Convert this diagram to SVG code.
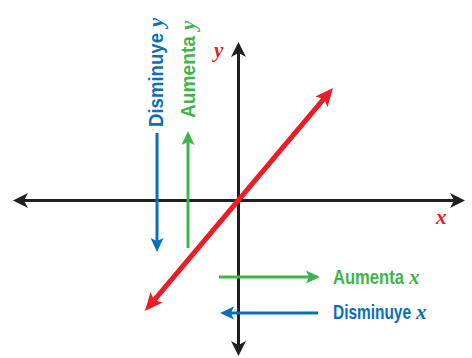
<svg xmlns="http://www.w3.org/2000/svg" width="472" height="358" viewBox="0 0 472 358">
<style>
.lbl{font-family:"Liberation Sans",Arial,sans-serif;font-weight:bold;font-size:21px}
.var{font-family:"Liberation Serif","Times New Roman",serif;font-style:italic;font-weight:bold;font-size:21px}
.blue{fill:#0b6fb8}.green{fill:#3db54a}.red{fill:#ed1c24}
</style>
<defs>
<marker id="hk" markerUnits="userSpaceOnUse" orient="auto-start-reverse" markerWidth="30" markerHeight="30" refX="0" refY="0" viewBox="-15 -15 30 30" overflow="visible"><path d="M11,0 L-4,-7.5 L0,0 L-4,7.5 Z" fill="#231f20"/></marker>
<marker id="hr" markerUnits="userSpaceOnUse" orient="auto-start-reverse" markerWidth="30" markerHeight="30" refX="0" refY="0" viewBox="-15 -15 30 30" overflow="visible"><path d="M14,0 L-4,-8 L0,0 L-4,8 Z" fill="#ed1c24"/></marker>
<marker id="hg" markerUnits="userSpaceOnUse" orient="auto" markerWidth="30" markerHeight="30" refX="0" refY="0" viewBox="-15 -15 30 30" overflow="visible"><path d="M11,0 L-3,-6.5 L0,0 L-3,6.5 Z" fill="#3db54a"/></marker>
<marker id="hb" markerUnits="userSpaceOnUse" orient="auto" markerWidth="30" markerHeight="30" refX="0" refY="0" viewBox="-15 -15 30 30" overflow="visible"><path d="M11,0 L-3,-6.5 L0,0 L-3,6.5 Z" fill="#0b6fb8"/></marker>
</defs>
<g id="connectors" fill="none">
<line x1="24" y1="200.5" x2="454" y2="200.5" stroke="#231f20" stroke-width="3" marker-start="url(#hk)" marker-end="url(#hk)"/>
<line x1="238.5" y1="345" x2="238.5" y2="53" stroke="#231f20" stroke-width="3" marker-start="url(#hk)" marker-end="url(#hk)"/>
<line x1="154" y1="300.3" x2="324" y2="98.7" stroke="#ed1c24" stroke-width="5" marker-start="url(#hr)" marker-end="url(#hr)"/>
<line x1="157" y1="133" x2="157" y2="241" stroke="#0b6fb8" stroke-width="3" marker-end="url(#hb)"/>
<line x1="188" y1="248" x2="188" y2="142" stroke="#3db54a" stroke-width="3" marker-end="url(#hg)"/>
<line x1="219" y1="277" x2="309" y2="277" stroke="#3db54a" stroke-width="3" marker-end="url(#hg)"/>
<line x1="318" y1="313" x2="231" y2="313" stroke="#0b6fb8" stroke-width="3" marker-end="url(#hb)"/>
</g>
<g id="label-y-axis"><text class="var red" x="214" y="57">y</text></g>
<g id="label-x-axis"><text class="var red" x="436" y="224">x</text></g>
<g id="disminuye-y" transform="translate(163,127) rotate(-90)">
<text class="lbl blue" x="0" y="0" textLength="94" lengthAdjust="spacingAndGlyphs">Disminuye</text>
<text class="var blue" x="100" y="0">y</text>
</g>
<g id="aumenta-y" transform="translate(195,118) rotate(-90)">
<text class="lbl green" x="0" y="0" textLength="82" lengthAdjust="spacingAndGlyphs">Aumenta</text>
<text class="var green" x="88" y="0">y</text>
</g>
<g id="aumenta-x">
<text class="lbl green" x="333" y="284" textLength="71" lengthAdjust="spacingAndGlyphs">Aumenta</text>
<text class="var green" x="409" y="284">x</text>
</g>
<g id="disminuye-x">
<text class="lbl blue" x="333" y="319" textLength="78" lengthAdjust="spacingAndGlyphs">Disminuye</text>
<text class="var blue" x="416" y="319">x</text>
</g>
</svg>
